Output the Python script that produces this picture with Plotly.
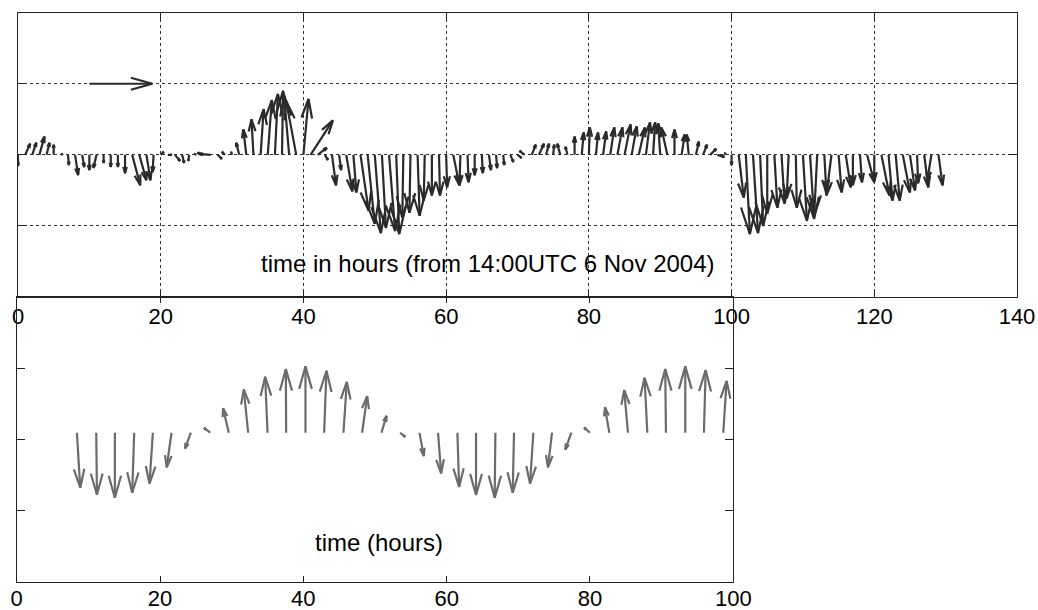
import math
import plotly.graph_objects as go

W, H = 1038, 610

# ---------------- data ----------------
# Top panel: hourly current vectors, components in velocity units
top_hours = list(range(130))
top_u = [0, 5, 4, 5, 3, 0, 2, 1, 3, 2,
         0, -3, 0, 0, 0, 0, 8, 7, 4, -1,
         3, 4, 5, 2, -1, -2, -6, -12, 4, -3,
         -1, -3, -3, -2, 3, 4, 3, 1, -5, -10,
         5, 22, 9, 3, 4, 2, 6, 3, 8, 7,
         6, 4, 6, 3, -1, -1, 2, -1, 0, 1,
         1, 6, -1, 1, 0, 1, 2, 1, 1, 3,
         4, -5, 4, 5, 3, 1, -3, -2, 0, 2,
         1, 2, 3, 4, 5, 6, 5, 6, 4, 2,
         -2, -6, 0, 3, -2, 3, 4, 6, 7, 1,
         0, 5, 4, 5, 3, 0, 3, 3, -2, 1,
         4, 4, -3, 2, -5, 3, 5, 0, 2, 7,
         0, 8, 4, 4, 7, 5, 1, 4, -4, 4]
top_v = [-11, 11, 12, 18, 12, 10, 1, -10, -20, -12,
         -15, -13, -8, -12, -12, -18, -30, -25, -25, -17,
         3, 0, -6, -8, -6, 1, 2, 1, -4, 3,
         3, 12, 25, 35, 45, 54, 60, 63, 58, 53,
         55, 34, 7, -5, -30, -15, -36, -37, -55, -68,
         -77, -72, -75, -78, -62, -57, -60, -45, -40, -40,
         -32, -30, -30, -27, -20, -18, -15, -13, -10, -7,
         -3, 4, 10, 11, 11, 10, 11, 8, 18, 22,
         27, 22, 23, 27, 27, 30, 28, 27, 32, 32,
         31, 27, 25, 20, 20, 13, 10, 6, -2, 2,
         -10, -42, -78, -77, -70, -58, -52, -48, -43, -52,
         -65, -63, -60, -37, -40, -37, -32, -30, -27, -27,
         -26, -40, -45, -45, -37, -35, -28, -32, -25, -30]

# scale (reference) arrow drawn in the top panel
scale_hour = 10
scale_level = 70
scale_u = 62
scale_v = 0

# Bottom panel: idealised rotating vector
bottom_hours = [8.4, 11.1, 13.7, 16.4, 19.0, 21.6, 24.3, 27.0, 29.6, 32.3,
                35.0, 37.6, 40.3, 42.9, 45.6, 48.2, 50.9, 53.5, 56.2, 58.8,
                61.5, 64.1, 66.8, 69.4, 72.1, 74.7, 77.4, 80.0, 82.7, 85.3,
                88.0, 90.6, 93.3, 95.9, 98.6]
bottom_u = [3.3, 0.7, 0, -2, -3.3, -4.7, -5.7, -6, -5.7, -4.3,
            -2.3, -0.3, 0, 2.3, 3.3, 5, 5, 5, 4.3, 3,
            1.7, 0, -0.7, -1.3, -3.3, -4, -6, -5.7, -4.3, -3.7,
            -2.7, -0.7, 0, 1.7, 3.3]
bottom_v = [-54, -61, -64, -59, -50, -34, -15.7, 4.7, 24, 42.7,
            55, 62.7, 65.3, 61, 50, 36, 16.7, -4, -23, -40,
            -53.3, -61.3, -64, -59, -50, -34, -16.7, 5, 25, 42,
            54, 62.7, 65.3, 61.7, 51]
bottom_base = 6.5

top_xticks = [0, 20, 40, 60, 80, 100, 120, 140]
bottom_xticks = [0, 20, 40, 60, 80, 100]
yticks = [-70, 0, 70]

top_label = "time in hours (from 14:00UTC 6 Nov 2004)"
bottom_label = "time (hours)"

# ---------------- layout geometry ----------------
top_xdom = [18 / W, 1017 / W]
top_ydom = [1 - 297 / H, 1 - 12.7 / H]
bot_xdom = [16.7 / W, 733.3 / W]
bot_ydom = [1 - 581.7 / H, 1 - 297 / H]
top_xrange = [0, 140]
bot_xrange = [0, 100]
yrange = [-140, 140]


def scales(xdom, ydom, xr):
    sx = W * (xdom[1] - xdom[0]) / (xr[1] - xr[0])
    sy = H * (ydom[1] - ydom[0]) / (yrange[1] - yrange[0])
    return sx, sy


def quiver(ts, us, vs, base, sx, sy):
    xs, ys = [], []
    hpu = sy / sx  # hours per velocity unit (isotropic arrows)
    for t, u, v in zip(ts, us, vs):
        x0, y0 = t, base
        x1, y1 = t + u * hpu, base + v
        xs += [x0, x1, None]
        ys += [y0, y1, None]
        px, py = u * sy, v * sy
        L = math.hypot(px, py)
        if L < 0.5:
            continue
        ex, ey = px / L, py / L
        hl, hw = 0.34 * L, 0.095 * L
        bx, by = -ex * hl, -ey * hl
        lx, ly = bx - ey * hw, by + ex * hw
        rx, ry = bx + ey * hw, by - ex * hw
        xs += [x1 + lx / sx, x1, x1 + rx / sx, None]
        ys += [y1 + ly / sy, y1, y1 + ry / sy, None]
    return xs, ys


sx1, sy1 = scales(top_xdom, top_ydom, top_xrange)
sx2, sy2 = scales(bot_xdom, bot_ydom, bot_xrange)

tx, ty = quiver(top_hours, top_u, top_v, 0, sx1, sy1)
rx, ry = quiver([scale_hour], [scale_u], [scale_v], scale_level, sx1, sy1)
bx, by = quiver(bottom_hours, bottom_u, bottom_v, bottom_base, sx2, sy2)

fig = go.Figure()
fig.add_trace(go.Scatter(x=tx, y=ty, mode="lines", xaxis="x", yaxis="y",
                         line=dict(color="#2a2a2a", width=2.2), hoverinfo="skip"))
fig.add_trace(go.Scatter(x=rx, y=ry, mode="lines", xaxis="x", yaxis="y",
                         line=dict(color="#2a2a2a", width=2.2), hoverinfo="skip"))
fig.add_trace(go.Scatter(x=bx, y=by, mode="lines", xaxis="x2", yaxis="y2",
                         line=dict(color="#6b6b6b", width=2.2), hoverinfo="skip"))

font = dict(family="Liberation Sans, Arial, sans-serif", size=22, color="#000")
axcommon = dict(showline=True, linecolor="#222", linewidth=1, mirror="ticks",
                ticks="inside", tickcolor="#222", zeroline=False,
                automargin=False)

fig.update_layout(
    width=W, height=H, margin=dict(l=0, r=0, t=0, b=0, autoexpand=False),
    paper_bgcolor="white", plot_bgcolor="white", showlegend=False,
    font=font,
    xaxis=dict(domain=top_xdom, range=top_xrange, anchor="y",
               tickvals=top_xticks, ticklen=6, showgrid=True,
               gridcolor="#333", griddash="dot", gridwidth=1,
               tickfont=font, **axcommon),
    yaxis=dict(domain=top_ydom, range=yrange, anchor="x",
               tickvals=yticks, ticklen=8, showticklabels=False,
               showgrid=True, gridcolor="#333", griddash="dot", gridwidth=1,
               **axcommon),
    xaxis2=dict(domain=bot_xdom, range=bot_xrange, anchor="y2",
                tickvals=bottom_xticks, ticklen=6, showgrid=False,
                tickfont=font, ticklabelstandoff=-3, **axcommon),
    yaxis2=dict(domain=bot_ydom, range=yrange, anchor="x2",
                tickvals=yticks, ticklen=8, showticklabels=False,
                showgrid=False, **axcommon),
    annotations=[
        dict(text=top_label, xref="paper", yref="paper",
             x=487.5 / W, y=1 - 264 / H, showarrow=False,
             xanchor="center", yanchor="middle",
             font=dict(family="Liberation Sans, Arial, sans-serif", size=24, color="#000")),
        dict(text=bottom_label, xref="paper", yref="paper",
             x=379 / W, y=1 - 542 / H, showarrow=False,
             xanchor="center", yanchor="middle",
             font=dict(family="Liberation Sans, Arial, sans-serif", size=24, color="#000")),
    ],
)

fig.write_html("out.html", config={"displayModeBar": False},
               post_script="document.body.style.margin='0';")
